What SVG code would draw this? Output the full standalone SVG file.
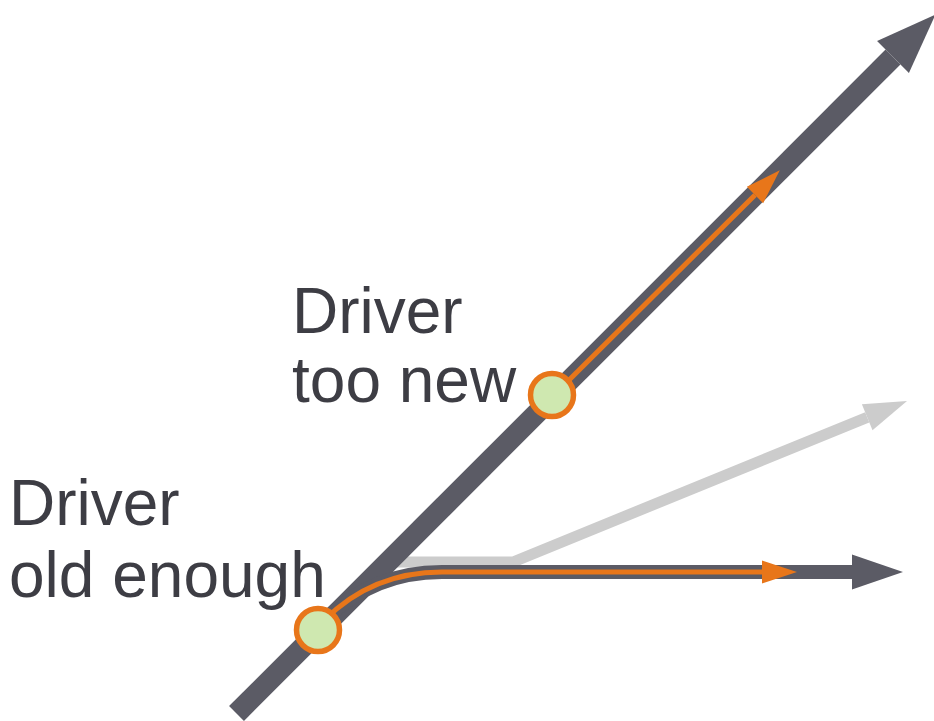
<svg xmlns="http://www.w3.org/2000/svg" width="934" height="721" viewBox="0 0 934 721">
  <style>
    .lbl { font-family: "Liberation Sans", Arial, sans-serif; font-size: 64px; fill: #3d3d44; }
    .dark { fill: none; stroke: #5b5b65; stroke-linecap: butt; }
    .gray { fill: none; stroke: #cccccc; stroke-width: 11; stroke-linejoin: miter; }
    .orange { fill: none; stroke: #e8761a; stroke-width: 5; }
    .node { fill: #cfe8b0; stroke: #e8761a; stroke-width: 5.5; }
  </style>
  <defs>
    <marker id="mMain" markerUnits="userSpaceOnUse" markerWidth="60" markerHeight="45" refX="0" refY="22.5" orient="auto" overflow="visible">
      <path d="M0,0 L60,22.5 L0,45 z" fill="#5b5b65"/>
    </marker>
    <marker id="mDark" markerUnits="userSpaceOnUse" markerWidth="51" markerHeight="35" refX="0" refY="17.5" orient="auto" overflow="visible">
      <path d="M0,0 L51,17.5 L0,35 z" fill="#5b5b65"/>
    </marker>
    <marker id="mGray" markerUnits="userSpaceOnUse" markerWidth="43" markerHeight="28" refX="0" refY="14" orient="auto" overflow="visible">
      <path d="M0,0 L43,14 L0,28 z" fill="#cccccc"/>
    </marker>
    <marker id="mOrange" markerUnits="userSpaceOnUse" markerWidth="35" markerHeight="23" refX="0" refY="11.5" orient="auto" overflow="visible">
      <path d="M0,0 L35,11.5 L0,23 z" fill="#e8761a"/>
    </marker>
  </defs>
  <g id="connectors">
    <path class="gray" d="M395,562 L513,562 L867.2,417.3" marker-end="url(#mGray)"/>
    <path class="dark" stroke-width="21" d="M236.5,713.5 L893,57" marker-end="url(#mMain)"/>
    <path class="dark" stroke-width="14" d="M324.5,620 Q372.5,572 442,572 L852,572" marker-end="url(#mDark)"/>
    <path class="orange" d="M318,627 L324.5,620 Q372.5,572 442,572 L762,572" marker-end="url(#mOrange)"/>
    <path class="orange" d="M552,397 L755,195" marker-end="url(#mOrange)"/>
  </g>
  <g id="node-old-enough">
    <circle class="node" cx="318" cy="630" r="21.5"/>
    <text class="lbl" x="9" y="525">Driver</text>
    <text class="lbl" x="9" y="597">old enough</text>
  </g>
  <g id="node-too-new">
    <circle class="node" cx="552" cy="395" r="21.5"/>
    <text class="lbl" x="292" y="333">Driver</text>
    <text class="lbl" x="292" y="402">too new</text>
  </g>
</svg>
